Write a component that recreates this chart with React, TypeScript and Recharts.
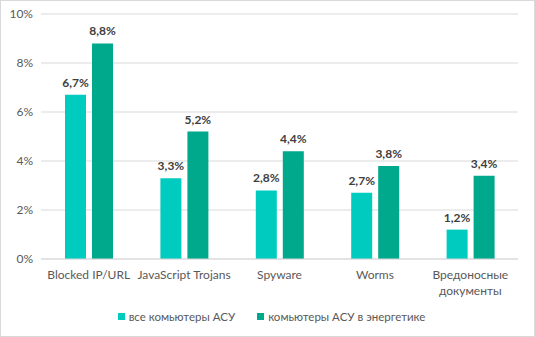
import { BarChart, Bar, XAxis, YAxis, CartesianGrid, Legend, LabelList } from 'recharts';

const categories = ['Blocked IP/URL', 'JavaScript Trojans', 'Spyware', 'Worms', 'Вредоносные документы'];
const allIcs = [6.7, 3.3, 2.8, 2.7, 1.2];
const energyIcs = [8.8, 5.2, 4.4, 3.8, 3.4];
const yTicks = [0, 2, 4, 6, 8, 10];
const seriesNames = ['все комьютеры АСУ', 'комьютеры АСУ в энергетике'];

const COLORS = ['#00CBBF', '#00A88C'];
const FONT = 'Lato, "Open Sans", sans-serif';

const data = categories.map((name, i) => ({ name, all: allIcs[i], energy: energyIcs[i] }));

const fmt = (v: number) => `${v.toFixed(1).replace('.', ',')}%`;

function CategoryTick({ x, y, payload }: any) {
  const text: string = payload.value;
  const lines = text.length > 18 ? text.split(' ') : [text];
  return (
    <text x={x} y={y} textAnchor="middle" fill="#595959" fontSize={12} fontFamily={FONT}>
      {lines.map((l, i) => (
        <tspan key={i} x={x} dy={i === 0 ? 12 : 16}>{l}</tspan>
      ))}
    </text>
  );
}

function LegendContent() {
  return (
    <div style={{ height: 20, paddingLeft: 24, display: 'flex', justifyContent: 'center', alignItems: 'center', gap: 22, fontFamily: FONT, fontSize: 11.5, color: '#595959' }}>
      {seriesNames.map((n, i) => (
        <span key={n} style={{ display: 'flex', alignItems: 'center' }}>
          <span style={{ width: 7, height: 7, background: COLORS[i], marginRight: 4, display: 'inline-block' }} />
          {n}
        </span>
      ))}
    </div>
  );
}

export default function App() {
  return (
    <div style={{ position: 'absolute', left: 0, top: 0, width: 535, height: 337, border: '1px solid #D9D9D9', boxSizing: 'border-box', background: '#fff' }}>
      <BarChart width={533} height={335} data={data} margin={{ top: 13, right: 16, bottom: 10, left: 0 }} barSize={21} barGap={6}>
        <CartesianGrid vertical={false} stroke="#D9D9D9" />
        <XAxis dataKey="name" height={47} axisLine={{ stroke: '#D9D9D9' }} tickLine={false} tick={<CategoryTick />} interval={0} />
        <YAxis width={40} domain={[0, 10]} ticks={yTicks} tickFormatter={(v) => `${v}%`} axisLine={false} tickLine={false} tick={{ fill: '#595959', fontSize: 12, fontFamily: FONT }} />
        <Legend verticalAlign="bottom" content={<LegendContent />} />
        <Bar dataKey="all" name={seriesNames[0]} fill={COLORS[0]} isAnimationActive={false}>
          <LabelList dataKey="all" position="top" offset={8} formatter={(v: any) => fmt(v)} fill="#404040" fontSize={12} fontWeight="bold" fontFamily={FONT} />
        </Bar>
        <Bar dataKey="energy" name={seriesNames[1]} fill={COLORS[1]} isAnimationActive={false}>
          <LabelList dataKey="energy" position="top" offset={8} formatter={(v: any) => fmt(v)} fill="#404040" fontSize={12} fontWeight="bold" fontFamily={FONT} />
        </Bar>
      </BarChart>
    </div>
  );
}
